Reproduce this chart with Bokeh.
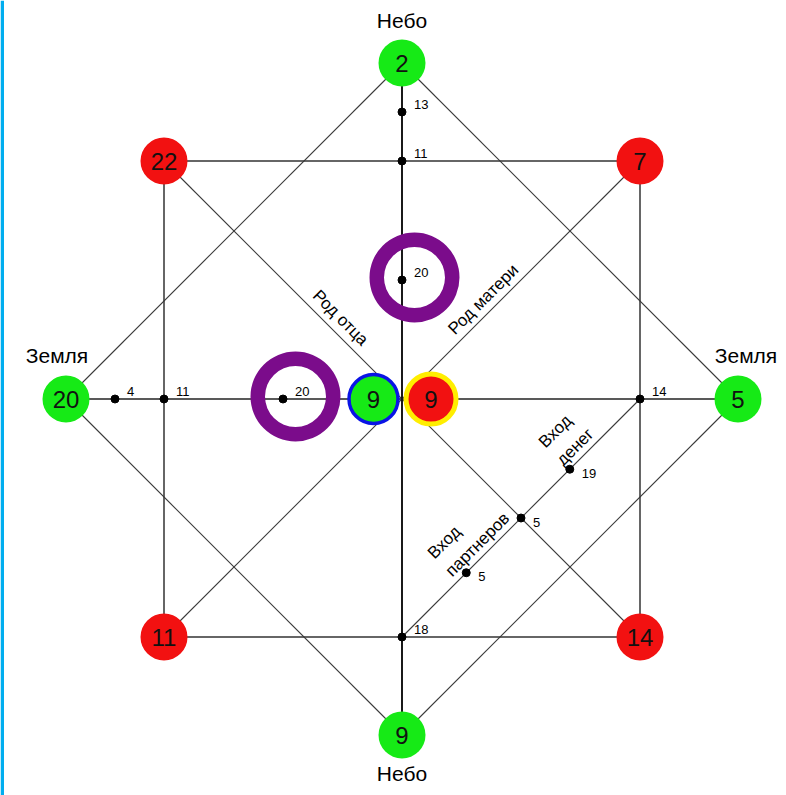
import numpy as np
from bokeh.plotting import figure
from bokeh.models import Range1d, BoxAnnotation
from bokeh.embed import file_html
from bokeh.resources import INLINE
from bokeh.core.properties import value

# ---------------- data ----------------
outer_values = ["2", "5", "9", "20"]        # top (Небо), right (Земля), bottom (Небо), left (Земля)
corner_values = ["7", "14", "11", "22"]     # top-right, bottom-right, bottom-left, top-left
inner_values = ["9", "9"]                   # father line (left, green), mother line (right, red)
vertical_values = ["13", "11", "20", "18"]  # points on the vertical axis
horizontal_values = ["4", "11", "20", "14"] # points on the horizontal axis
money_values = ["19", "5", "5"]             # points on the money / partner line
sky_label = "Небо"
earth_label = "Земля"
father_label = "Род отца"
mother_label = "Род матери"
money_label = ["Вход", "денег"]
partner_label = ["Вход", "партнеров"]

# ---------------- geometry ----------------
R = 336.0           # outer radius of the octagram
S = 238.0           # half side of the square
FONT = value("Liberation Sans")
GREEN = "#16ea16"
RED = "#f21111"
PURPLE = "#7b0c8b"

p = figure(width=786, height=795,
           x_range=Range1d(-401.5, 384.5), y_range=Range1d(-396.5, 398.5),
           output_backend="svg", toolbar_location=None,
           x_axis_location=None, y_axis_location=None, min_border=0)
p.grid.visible = False
p.outline_line_color = None
p.background_fill_color = "white"
p.border_fill_color = "white"

# thin blue strip on the left edge
p.add_layout(BoxAnnotation(left=-401.5, right=-398, fill_color="#00adef",
                           fill_alpha=1, line_color=None))

outer_xy = np.array([(0, R), (R, 0), (0, -R), (-R, 0)])
corner_xy = np.array([(S, S), (S, -S), (-S, -S), (-S, S)])

# diamond
for i in range(4):
    a, b = outer_xy[i], outer_xy[(i + 1) % 4]
    p.segment(a[0], a[1], b[0], b[1], line_color="#3a3a3a", line_width=1.1)
# square
for i in range(4):
    a, b = corner_xy[i], corner_xy[(i + 1) % 4]
    p.segment(a[0], a[1], b[0], b[1], line_color="#333333", line_width=1.5)
# square diagonals
p.segment(-S, S, S, -S, line_color="#3a3a3a", line_width=1.1)
p.segment(S, S, -S, -S, line_color="#3a3a3a", line_width=1.1)
# main axes
p.segment(0, R, 0, -R, line_color="black", line_width=1.8)
p.segment(-R, 0, R, 0, line_color="#222222", line_width=1.5)
# money line
m0 = np.array([S, 0.0]); m1 = np.array([0.0, -S])
p.segment(m0[0], m0[1], m1[0], m1[1], line_color="#3a3a3a", line_width=1.1)

# points on axes
vert_y = [(R + S) / 2, S, S / 2, -S]
horiz_x = [-(R + S) / 2, -S, -S / 2, S]
money_t = [0.295, 0.5, 0.73]
money_pts = [m0 + t * (m1 - m0) for t in money_t]

# purple rings (around the "20" points)
ring_x = [0 + 12.5, -S / 2 + 12.5]
ring_y = [S / 2 + 2.5, 0 + 2.5]
p.annulus(x=ring_x, y=ring_y, inner_radius=30.5, outer_radius=45,
          fill_color=PURPLE, line_color=None)

px = [0] * 4 + horiz_x + [q[0] for q in money_pts]
py = vert_y + [0] * 4 + [q[1] for q in money_pts]
p.scatter(px, py, size=8, color="black")

lab_x = [x + 12 for x in [0] * 4 + horiz_x]
lab_y = [y + 8 for y in vert_y + [0] * 4]
p.text(lab_x, lab_y, text=vertical_values + horizontal_values,
       text_font=FONT, text_font_size=value("13px"), text_color="black",
       text_align="left", text_baseline="middle")
p.text([q[0] + 12 for q in money_pts], [q[1] - 4 for q in money_pts], text=money_values,
       text_font=FONT, text_font_size=value("13px"), text_color="black",
       text_align="left", text_baseline="middle")

# big circles
p.circle(outer_xy[:, 0], outer_xy[:, 1], radius=23.5, fill_color=GREEN, line_color=None)
p.circle(corner_xy[:, 0], corner_xy[:, 1], radius=23.5, fill_color=RED, line_color=None)
p.text(list(outer_xy[:, 0]) + list(corner_xy[:, 0]), list(outer_xy[:, 1]) + list(corner_xy[:, 1]),
       text=outer_values + corner_values, text_font=FONT, text_font_size=value("24px"),
       text_color="#111111", text_align="center", text_baseline="middle")

# inner circles
p.circle([-28.5], [0], radius=24.5, fill_color=GREEN, line_color="#0a14e6", line_width=3.5)
p.circle([29], [0], radius=25, fill_color=RED, line_color="#ffee00", line_width=5)
p.text([-28.5, 29], [0, 0], text=inner_values, text_font=FONT, text_font_size=value("24px"),
       text_color="#111111", text_align="center", text_baseline="middle")

# sky / earth labels
p.text([0], [R + 42.5], text=[sky_label], text_font=FONT, text_font_size=value("21px"),
       text_color="black", text_align="center", text_baseline="alphabetic")
p.text([0], [-(R + 38.5)], text=[sky_label], text_font=FONT, text_font_size=value("21px"),
       text_color="black", text_align="center", text_baseline="alphabetic")
p.text([-(R + 9), R + 8], [43.5, 43.5], text=[earth_label, earth_label], text_font=FONT,
       text_font_size=value("21px"), text_color="black", text_align="center",
       text_baseline="alphabetic")

# rotated labels along lines
d = 1 / np.sqrt(2)
L = S * np.sqrt(2)
fm = 0.38 * L
mx, my = fm * d + 13 * (-d), fm * d + 13 * d
p.text([mx], [my], text=[mother_label], angle=np.pi / 4, text_font=FONT,
       text_font_size=value("17px"), text_color="black", text_align="center",
       text_baseline="middle")
ff = 0.30 * L
fx, fy = -ff * d + 14 * d, ff * d + 14 * d
p.text([fx], [fy], text=[father_label], angle=-np.pi / 4, text_font=FONT,
       text_font_size=value("17px"), text_color="black", text_align="center",
       text_baseline="middle")

u = np.array([-d, -d]); v = np.array([-d, d])
for s_start, lines in [(102, money_label), (259, partner_label)]:
    for perp, t in zip([37, 12], lines):
        a = m0 + s_start * u + perp * v
        p.text([a[0]], [a[1]], text=[t], angle=np.pi / 4, text_font=FONT,
               text_font_size=value("17px"), text_color="black", text_align="left",
               text_baseline="middle")

open("out.html", "w").write(file_html(p, INLINE))
